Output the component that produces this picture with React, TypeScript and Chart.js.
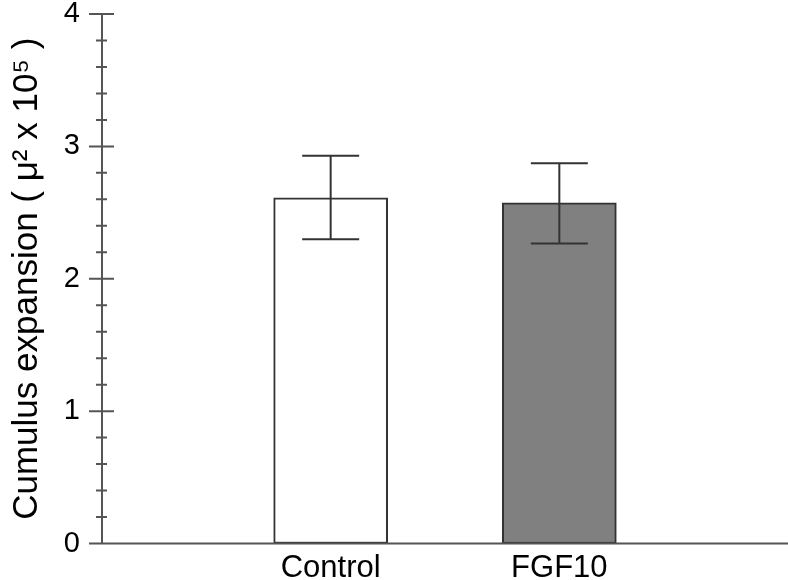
import React, { useEffect, useRef } from "react";
import { Chart, registerables } from "chart.js";

Chart.register(...registerables);

const categories = ["", "Control", "FGF10", ""];
const means: (number | null)[] = [null, 2.612, 2.574, null];
const errUpper: (number | null)[] = [null, 0.317, 0.298, null];
const errLower: (number | null)[] = [null, 0.314, 0.307, null];
const barFills = ["#ffffff", "#ffffff", "#808080", "#ffffff"];
const yMajorTicks = [0, 1, 2, 3, 4];
const yMinorPerMajor = 5;
const yTitle = "Cumulus expansion ( \u03bc\u00b2 x 10\u2075 )";

const FONT = "'Liberation Sans', Arial, sans-serif";

const customAxes = {
  id: "customAxes",
  afterDatasetsDraw(chart: any) {
    const { ctx, chartArea, scales } = chart;
    const { left, top, bottom } = chartArea;
    const y = scales.y;
    ctx.save();
    const meta = chart.getDatasetMeta(0);
    ctx.strokeStyle = "#333333";
    ctx.lineWidth = 2;
    meta.data.forEach((el: any, i: number) => {
      const m = means[i];
      if (m == null) return;
      const px = el.x;
      const yt = y.getPixelForValue(m + (errUpper[i] as number));
      const yb = y.getPixelForValue(m - (errLower[i] as number));
      const half = 28.5;
      ctx.beginPath();
      ctx.moveTo(px, yt);
      ctx.lineTo(px, yb);
      ctx.moveTo(px - half, yt);
      ctx.lineTo(px + half, yt);
      ctx.moveTo(px - half, yb);
      ctx.lineTo(px + half, yb);
      ctx.stroke();
    });
    ctx.strokeStyle = "#555555";
    ctx.lineWidth = 2;
    ctx.beginPath();
    ctx.moveTo(left, top);
    ctx.lineTo(left, bottom);
    ctx.moveTo(left - 12, bottom);
    ctx.lineTo(chart.width, bottom);
    yMajorTicks.forEach((v) => {
      const py = y.getPixelForValue(v);
      ctx.moveTo(left - 13, py);
      ctx.lineTo(left + 12, py);
    });
    for (let k = 0; k < yMajorTicks.length - 1; k++) {
      const a = yMajorTicks[k];
      const b = yMajorTicks[k + 1];
      for (let j = 1; j < yMinorPerMajor; j++) {
        const v = a + ((b - a) * j) / yMinorPerMajor;
        const py = y.getPixelForValue(v);
        ctx.moveTo(left - 6, py);
        ctx.lineTo(left + 5, py);
      }
    }
    ctx.stroke();
    ctx.restore();
  },
};

export default function App() {
  const ref = useRef<HTMLCanvasElement | null>(null);
  useEffect(() => {
    if (!ref.current) return;
    const chart = new Chart(ref.current, {
      type: "bar",
      data: {
        labels: categories,
        datasets: [
          {
            data: means as any,
            backgroundColor: barFills,
            borderColor: "#333333",
            borderWidth: 2,
            borderSkipped: false,
            barThickness: 114,
          },
        ],
      },
      options: {
        animation: false,
        responsive: true,
        maintainAspectRatio: false,
        layout: { padding: { top: 14, left: 0, right: 0, bottom: 0 } },
        plugins: { legend: { display: false }, tooltip: { enabled: false } },
        scales: {
          x: {
            offset: false,
            grid: { display: false, drawTicks: false },
            border: { display: false },
            ticks: {
              color: "#000",
              font: { family: FONT, size: 31 },
              padding: 6,
              maxRotation: 0,
              autoSkip: false,
            },
            afterFit: (s: any) => {
              s.height = 36.5;
              s.paddingLeft = 0;
              s.paddingRight = 0;
            },
          },
          y: {
            min: 0,
            max: 4,
            grid: { display: false, drawTicks: false },
            border: { display: false },
            ticks: {
              stepSize: 1,
              color: "#000",
              font: { family: FONT, size: 29 },
              padding: 22,
            },
            title: {
              display: true,
              text: yTitle,
              color: "#000",
              font: { family: FONT, size: 35 },
              padding: { top: 6, bottom: 0 },
            },
            afterFit: (s: any) => {
              s.width = 102;
              s.paddingTop = 0;
              s.paddingBottom = 0;
            },
          },
        },
      },
      plugins: [customAxes],
    });
    return () => chart.destroy();
  }, []);
  return (
    <div style={{ position: "fixed", left: 0, top: 0, width: 788, height: 580, background: "#fff" }}>
      <canvas ref={ref} />
    </div>
  );
}
